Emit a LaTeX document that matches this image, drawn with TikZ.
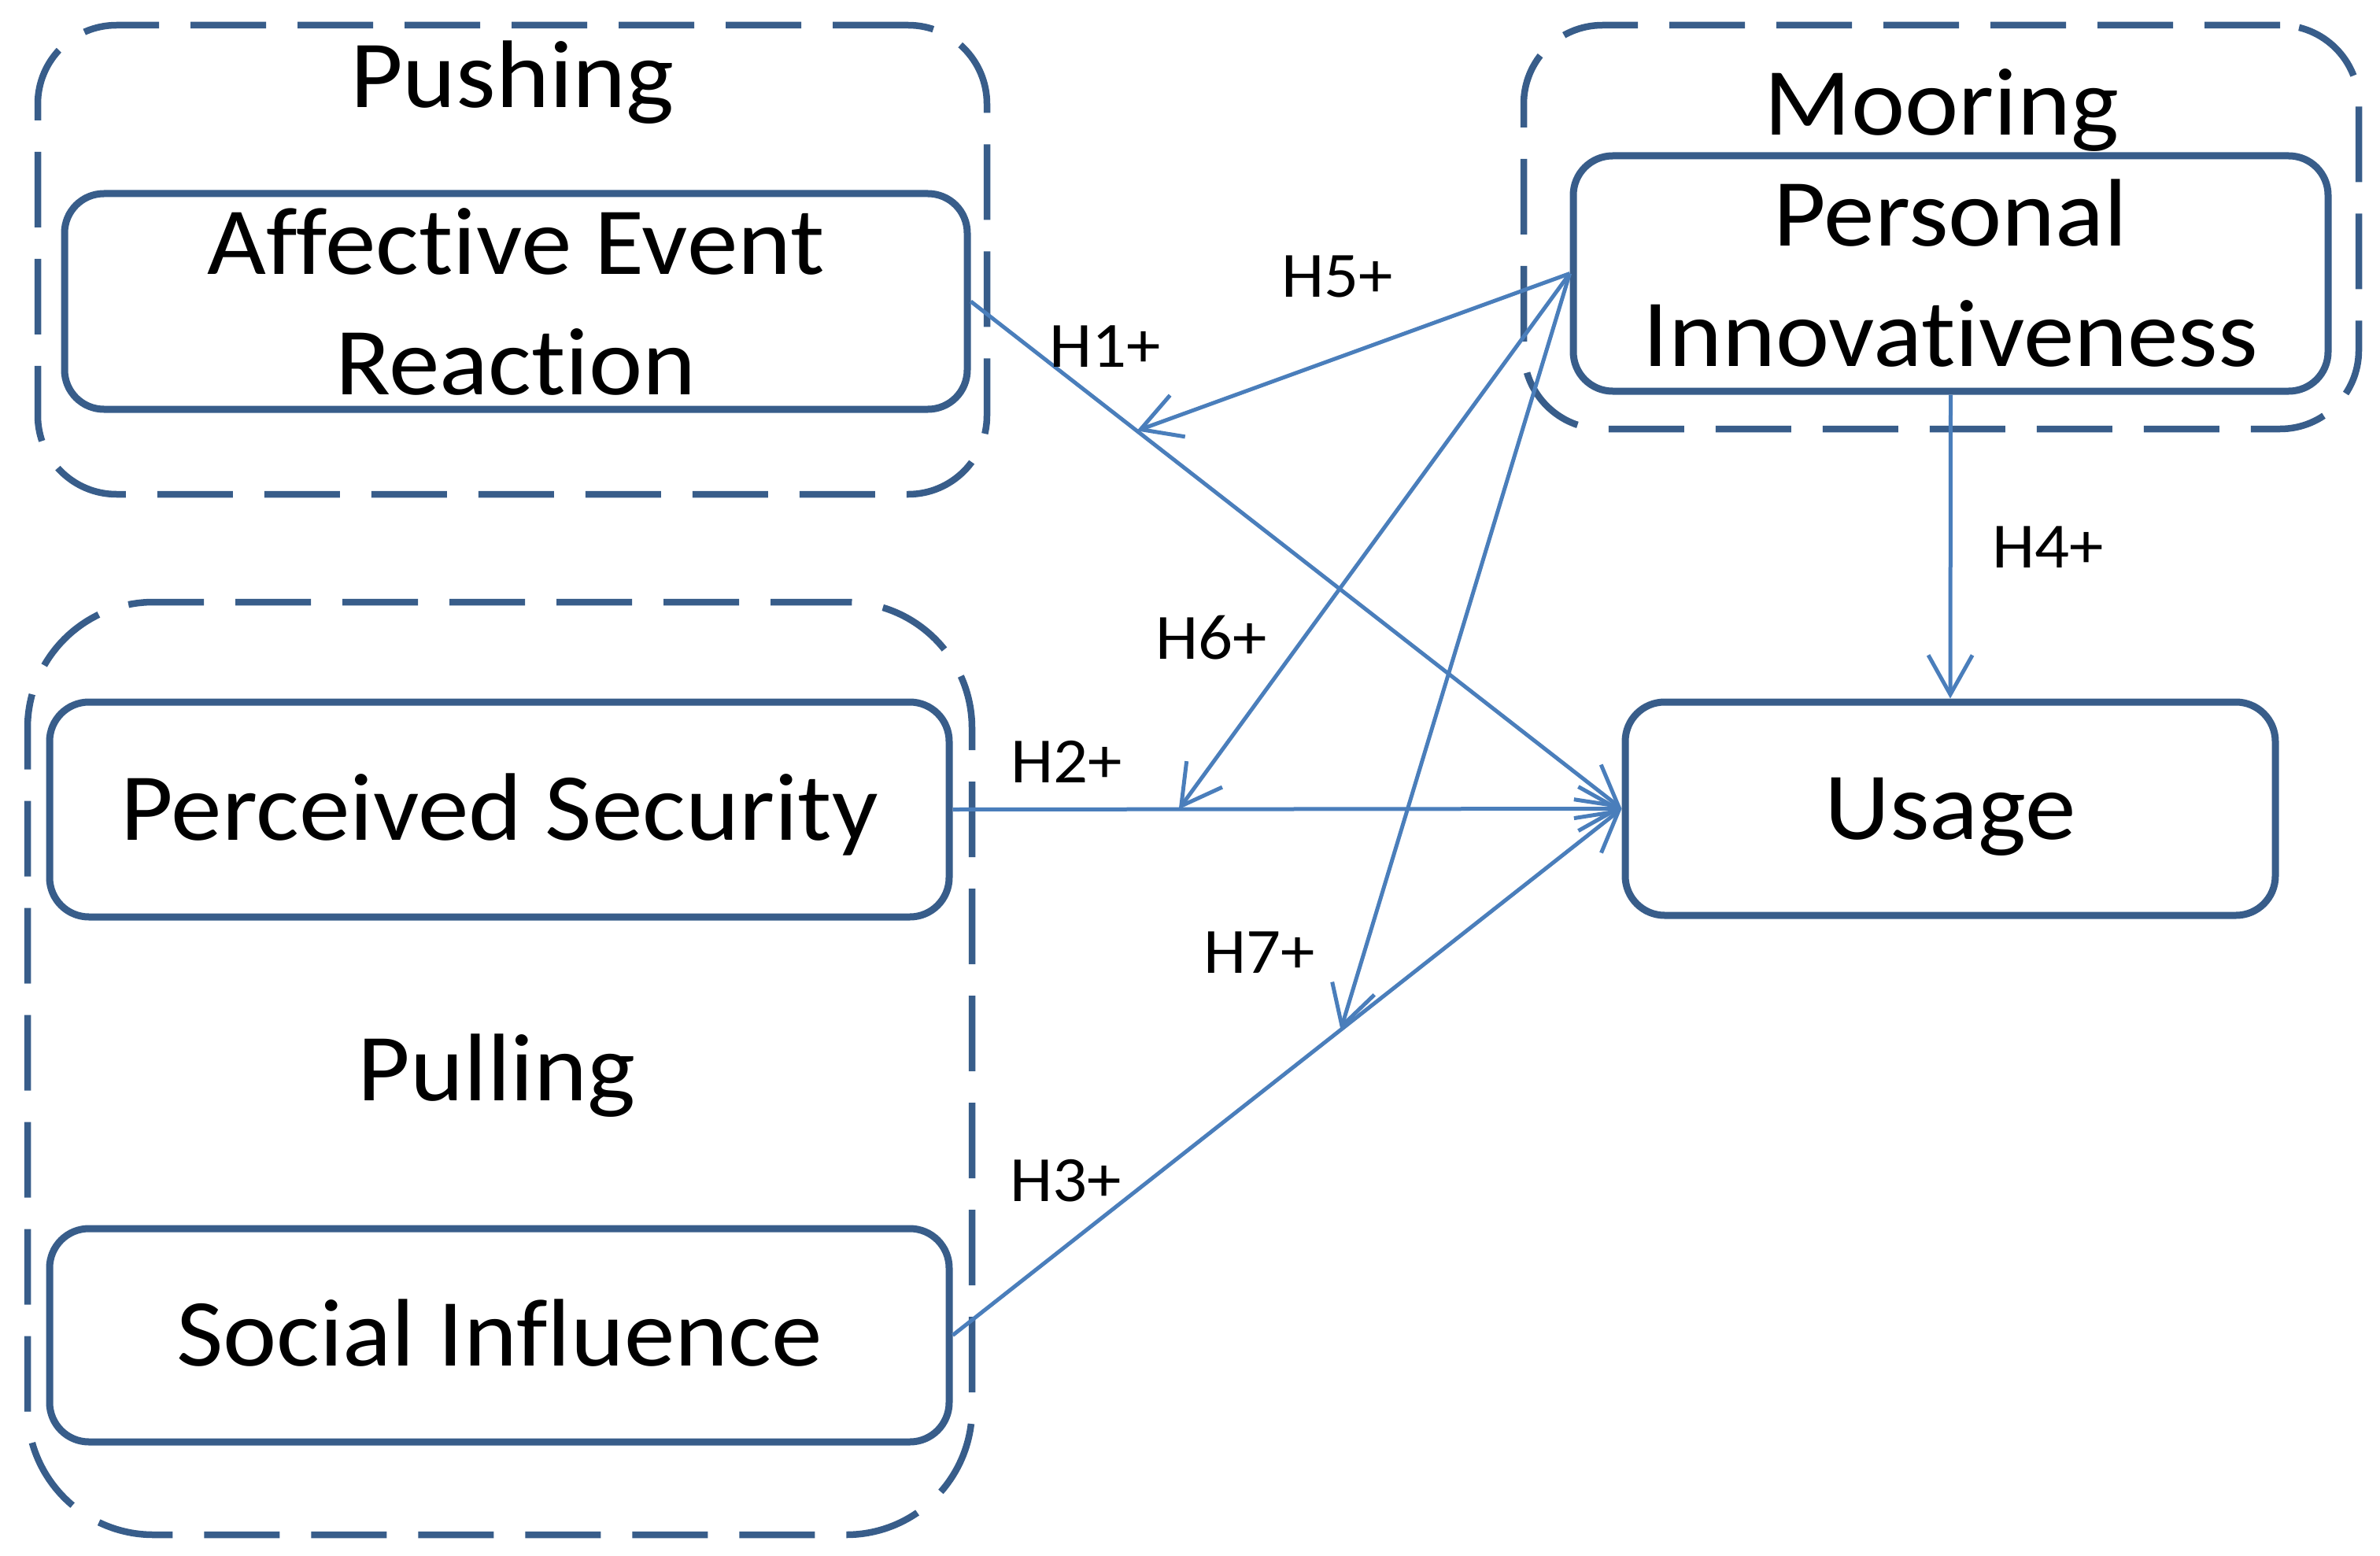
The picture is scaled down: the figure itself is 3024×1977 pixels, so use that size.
\documentclass[tikz,border=0pt]{standalone}
\usepackage{fontspec}
\setmainfont[FakeStretch=1.06, Ligatures=NoCommon]{Carlito}
\usetikzlibrary{arrows.meta}
\definecolor{boxblue}{RGB}{56,93,138}
\definecolor{arrowblue}{RGB}{74,126,187}
\tikzset{
  grp/.style={draw=boxblue, line width=8.5pt, dash pattern=on 96pt off 40pt, rounded corners=100pt, inner sep=0pt},
  cbox/.style={draw=boxblue, line width=9pt, rounded corners=50pt, fill=white, inner sep=0pt, align=center,
     font=\fontsize{122}{153}\selectfont},
  oneline/.style={text height=77pt, text depth=0pt},
  grplabel/.style={font=\fontsize{122}{153}\selectfont, anchor=base, inner sep=0pt},
  hlab/.style={font=\fontsize{82}{98}\selectfont, inner sep=0pt},
  conn/.style={draw=arrowblue, line width=5pt, -{Straight Barb[length=50pt,width=56pt]}},
}
\begin{document}
\begin{tikzpicture}[x=1pt,y=-1pt]
\useasboundingbox (0,0) rectangle (3024,1977);
% groups
\node[grp, minimum width=1206pt, minimum height=596pt] (push) at (651,330) {};
\node[grp, minimum width=1061pt, minimum height=513pt] (moor) at (2466.5,288.5) {};
\node[grp, rounded corners=160pt, minimum width=1200pt, minimum height=1185pt] (pull) at (635,1357.5) {};
% constructs
\node[cbox, minimum width=1147pt, minimum height=274pt] (aer) at (655.5,383) {Affective Event\\Reaction};
\node[cbox, minimum width=959pt, minimum height=299pt] (pi) at (2478.5,347.5) {Personal\\Innovativeness};
\node[cbox, oneline, minimum width=1143pt, minimum height=273pt] (ps) at (634.5,1028.5) {Perceived Security};
\node[cbox, oneline, minimum width=1143pt, minimum height=271pt] (si) at (634.5,1696.5) {Social Influence};
\node[cbox, oneline, minimum width=826pt, minimum height=271pt] (us) at (2478,1027.5) {Usage};
% group labels
\node[grplabel] (pushlab) at (651,137) {Pushing};
\node[grplabel] (moorlab) at (2467,172) {Mooring};
\node[grplabel] (pulllab) at (631,1398) {Pulling};
% helper points on paths
\path (aer.east) -- (us.west) coordinate[pos=0.255] (t5);
\path (ps.east) -- (us.west) coordinate[pos=0.338] (t6);
\path (si.east) -- (us.west) coordinate[pos=0.58] (t7);
% connectors
\draw[conn] (aer.east) -- (us.west);
\draw[conn] (ps.east) -- (us.west);
\draw[conn] (si.east) -- (us.west);
\draw[conn] (pi.south) -- (us.north);
\draw[conn] (pi.west) -- (t5);
\draw[conn] (pi.west) -- (t6);
\draw[conn] (pi.west) -- (t7);
% labels
\node[hlab] (l1) at (1404,440) {H1+};
\node[hlab] (l5) at (1699,351) {H5+};
\node[hlab] (l6) at (1539,810) {H6+};
\node[hlab] (l2) at (1355,968) {H2+};
\node[hlab] (l7) at (1600,1210) {H7+};
\node[hlab] (l3) at (1354,1500) {H3+};
\node[hlab] (l4) at (2602,695) {H4+};
\end{tikzpicture}
\end{document}
